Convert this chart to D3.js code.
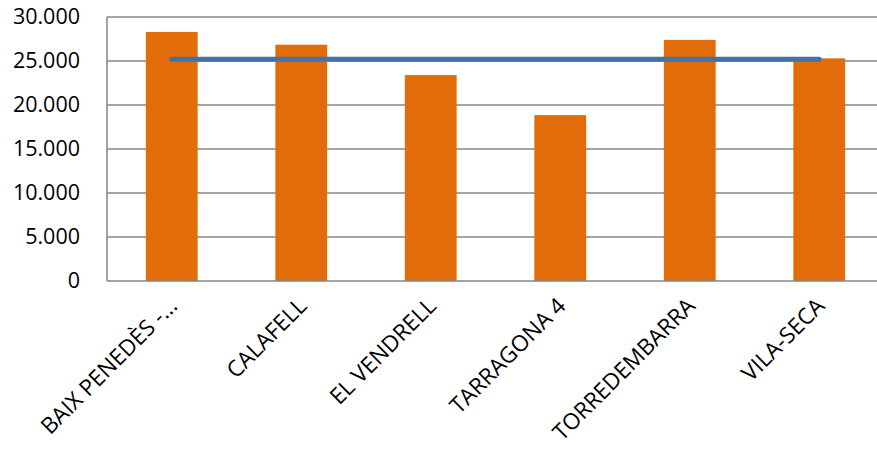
<!DOCTYPE html>
<html><head><meta charset="utf-8">
<script src="https://cdn.jsdelivr.net/npm/d3@7"></script>
<style>body{margin:0;background:#fff;overflow:hidden}svg{display:block}text{font-family:"Open Sans",sans-serif;fill:#000}</style>
</head><body><svg id="c" width="877" height="457"></svg>
<script>
const categories = ["BAIX PENEDÈS -...", "CALAFELL", "EL VENDRELL", "TARRAGONA 4", "TORREDEMBARRA", "VILA-SECA"];
const barValues = [28300, 26850, 23400, 18850, 27400, 25300];
const lineValues = [25200, 25200, 25200, 25200, 25200, 25200];
const yTicks = [0, 5000, 10000, 15000, 20000, 25000, 30000];

const svg = d3.select("#c");
const m = {l:107, r:884, t:17, b:281};
const x = d3.scaleBand().domain(categories).range([m.l, m.r]).paddingInner(0.6).paddingOuter(0.3);
const xc = d3.scalePoint().domain(categories).range([m.l, m.r]).padding(0.5);
const y = d3.scaleLinear().domain([0, 30000]).range([m.b, m.t]);
const fmt = v => d3.format(",")(v).replace(/,/g, ".");

// gridlines
svg.append("g").selectAll("line").data(yTicks.filter(d => d > 0)).join("line")
  .attr("x1", m.l).attr("x2", m.r).attr("y1", d => y(d)).attr("y2", d => y(d))
  .attr("stroke", "#868686").attr("stroke-width", 1.5);

// y axis
const ya = svg.append("g").attr("transform", `translate(${m.l},0)`)
  .call(d3.axisLeft(y).tickValues(yTicks).tickFormat(fmt).tickSize(0).tickPadding(27));
ya.select(".domain").remove();
ya.selectAll("text").attr("font-size", 21.5).attr("font-family", "Open Sans").attr("fill", "#000");
svg.append("line").attr("x1", m.l).attr("x2", m.l).attr("y1", m.t).attr("y2", m.b).attr("stroke", "#868686").attr("stroke-width", 1.5);

// bars
svg.append("g").selectAll("rect").data(categories).join("rect")
  .attr("x", d => x(d)).attr("width", x.bandwidth())
  .attr("y", (d, i) => y(barValues[i])).attr("height", (d, i) => m.b - y(barValues[i]))
  .attr("fill", "#E36C0A");

// x baseline
svg.append("line").attr("x1", m.l).attr("x2", m.r).attr("y1", m.b).attr("y2", m.b).attr("stroke", "#868686").attr("stroke-width", 1.5);

// line
svg.append("path").datum(lineValues)
  .attr("d", d3.line().x((d, i) => xc(categories[i])).y(d => y(d)))
  .attr("fill", "none").attr("stroke", "#4472A8").attr("stroke-width", 5).attr("stroke-linecap", "round");

// x labels
const xa = svg.append("g").attr("transform", `translate(0,${m.b})`)
  .call(d3.axisBottom(xc).tickSize(0).tickPadding(0));
xa.select(".domain").remove();
xa.selectAll("text")
  .attr("font-size", 22.5).attr("font-family", "Open Sans").attr("fill", "#000")
  .attr("text-anchor", "end").attr("dy", "0.9em")
  .attr("transform", "translate(-8,12) rotate(-45)");
</script></body></html>
